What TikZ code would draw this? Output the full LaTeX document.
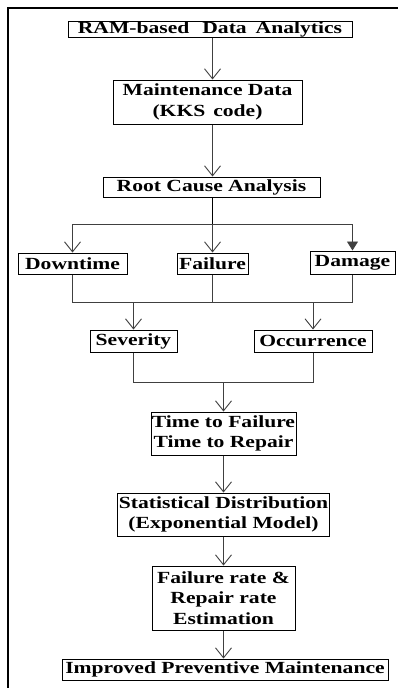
\documentclass[tikz,border=0pt]{standalone}
\usepackage{fontspec}
\setmainfont{Liberation Serif}[FakeStretch=1.27]
\usetikzlibrary{arrows.meta}
\begin{document}
\begin{tikzpicture}[x=1pt,y=-1pt,
  box/.style={draw=black, line width=1pt, inner sep=0pt, align=center,
    font=\fontsize{17}{20.5}\selectfont\bfseries},
  conn/.style={draw=black!75, line width=0.9pt},
  arr/.style={conn, -{Straight Barb[length=10pt,width=16pt]}},
  tri/.style={conn, -{Triangle[length=9pt,width=11pt]}}]
\useasboundingbox (0,0) rectangle (398,688);
\fill[white] (0,0) rectangle (398,688);
\draw[line width=2pt] (8,688) -- (8,8) -- (398,8);

\node[box, minimum width=284pt, minimum height=16pt] (ram) at (210,29) {RAM-based\hspace{13pt}Data\hspace{9pt}Analytics};
\node[box, minimum width=189pt, minimum height=44pt] (mdata) at (207.5,102) {Maintenance Data\\(KKS\hspace{8pt}code)};
\node[box, minimum width=217pt, minimum height=20pt] (rca) at (211.5,187) {Root Cause Analysis};
\node[box, minimum width=109pt, minimum height=21pt] (down) at (72.5,263.5) {Downtime};
\node[box, minimum width=71pt, minimum height=21pt] (fail) at (212.5,263.5) {Failure};
\node[box, minimum width=85pt, minimum height=23pt] (dam) at (352.5,262.5) {Damage};
\node[box, minimum width=87pt, minimum height=22pt] (sev) at (133.5,341) {Severity};
\node[box, minimum width=118pt, minimum height=22pt] (occ) at (313,341) {Occurrence};
\node[box, minimum width=145pt, minimum height=43pt] (ttf) at (223.5,433.5) {Time to Failure\\Time to Repair};
\node[box, minimum width=212pt, minimum height=43pt] (stat) at (223.5,514.5) {Statistical Distribution\\(Exponential Model)};
\node[box, minimum width=143pt, minimum height=64pt] (rate) at (223.5,598) {Failure rate \&\\Repair rate\\Estimation};
\node[box, minimum width=326pt, minimum height=21pt] (imp) at (225,669.5) {Improved Preventive Maintenance};

\draw[arr] (ram.south -| fail) -- (mdata.north -| fail);
\draw[arr] (mdata.south -| fail) -- (rca.north -| fail);

\coordinate (br) at (212.5,224);
\draw[line width=1.8pt] (rca.south -| fail) -- (br);
\draw[conn] (br -| down) -- (br -| dam);
\draw[arr] (br -| down) -- (down.north);
\draw[arr] (br) -- (fail.north);
\draw[tri] (br -| dam) -- (dam.north);

\coordinate (mg) at (212.5,302);
\draw[conn] (down.south) -- (mg -| down) -- (mg -| dam) -- (dam.south);
\draw[conn] (fail.south) -- (mg);
\draw[arr] (mg -| sev) -- (sev.north);
\draw[arr] (mg -| occ) -- (occ.north);

\coordinate (mg2) at (223.5,382);
\draw[conn] (sev.south) -- (mg2 -| sev) -- (mg2 -| occ) -- (occ.south);
\draw[arr] (mg2) -- (ttf.north);
\draw[arr] (ttf.south) -- (stat.north);
\draw[arr] (stat.south) -- (rate.north);
\draw[arr] (rate.south) -- (rate.south |- imp.north);
\end{tikzpicture}
\end{document}
